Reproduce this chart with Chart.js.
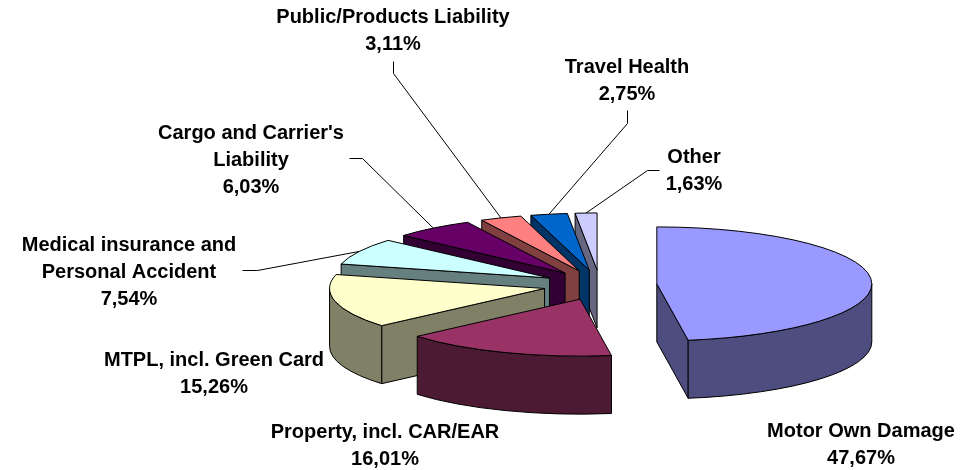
<!DOCTYPE html>
<html><head><meta charset="utf-8">
<script src="https://cdn.jsdelivr.net/npm/chart.js@4/dist/chart.umd.min.js"></script>
<style>html,body{margin:0;padding:0;background:#fff;}#wrap{width:972px;height:470px;}</style>
</head><body><div id="wrap"><canvas id="c" width="972" height="470"></canvas></div>
<script>
// ---- data ----
const categories = ["Motor Own Damage","Property, incl. CAR/EAR","MTPL, incl. Green Card","Medical insurance and Personal Accident","Cargo and Carrier's Liability","Public/Products Liability","Travel Health","Other"];
const labelLines = [["Motor Own Damage"],["Property, incl. CAR/EAR"],["MTPL, incl. Green Card"],["Medical insurance and","Personal Accident"],["Cargo and Carrier's","Liability"],["Public/Products Liability"],["Travel Health"],["Other"]];
const shares = [47.67,16.01,15.26,7.54,6.03,3.11,2.75,1.63];

// ---- styles / layout ----
const topColors = ["#9999FF","#993366","#FFFFCC","#CCFFFF","#660066","#FF8080","#0066CC","#CCCCFF"];
const labelX = [861,385,214,129,251,393,627,694];
const labelY0 = [431,432,360,245,133,17,67,157];
const lineGap = 27;
const leaders = [null,null,null,[[242,270],[257,270]],[[349,158],[362,158]],[[393,61],[393,73]],[[627,110],[627,123]],[[659,170],[647,170]]];
const TILT = 0.265, DEPTH = 58, EXPLODE = 0.265, YSHIFT = 50;
const FONT = 'bold 20px "Liberation Sans", Arial, sans-serif';

function darker(hex){
  const n=parseInt(hex.slice(1),16);
  const r=(n>>16)&255,g=(n>>8)&255,b=n&255;
  return 'rgb('+Math.round(r/2)+','+Math.round(g/2)+','+Math.round(b/2)+')';
}

function geom(el){
  const r = el.outerRadius, a0 = el.startAngle, a1 = el.endAngle, mid=(a0+a1)/2;
  const ex = el.x + Math.cos(mid)*EXPLODE*r;
  const ey = el.y + YSHIFT + Math.sin(mid)*EXPLODE*r*TILT;
  return {r, ry:r*TILT, a0, a1, mid, ex, ey};
}

const pie3d = {
  id:'pie3d',
  beforeDatasetsDraw(chart){
    const ctx = chart.ctx;
    const meta = chart.getDatasetMeta(0);
    const items = meta.data.map((el,i)=>({i, g:geom(el)}));
    items.sort((p,q)=>Math.sin(p.g.mid)-Math.sin(q.g.mid));
    ctx.save();
    ctx.lineWidth = 1;
    ctx.strokeStyle = '#000';
    ctx.lineJoin = 'round';
    for (const it of items){
      const g = it.g, top = topColors[it.i], side = darker(top);
      const P = a => [g.ex + Math.cos(a)*g.r, g.ey + Math.sin(a)*g.ry];
      // radial faces
      const faces = [];
      if (Math.cos(g.a0) < -1e-6) faces.push(g.a0);
      if (Math.cos(g.a1) > 1e-6) faces.push(g.a1);
      for (const a of faces){
        const p = P(a);
        ctx.beginPath();
        ctx.moveTo(g.ex, g.ey);
        ctx.lineTo(p[0], p[1]);
        ctx.lineTo(p[0], p[1]+DEPTH);
        ctx.lineTo(g.ex, g.ey+DEPTH);
        ctx.closePath();
        ctx.fillStyle = side; ctx.fill(); ctx.stroke();
      }
      // outer wall (front half)
      const s = Math.max(g.a0, 0), t = Math.min(g.a1, Math.PI);
      if (s < t){
        ctx.beginPath();
        ctx.ellipse(g.ex, g.ey, g.r, g.ry, 0, s, t, false);
        const pt = P(t);
        ctx.lineTo(pt[0], pt[1]+DEPTH);
        ctx.ellipse(g.ex, g.ey+DEPTH, g.r, g.ry, 0, t, s, true);
        ctx.closePath();
        ctx.fillStyle = side; ctx.fill(); ctx.stroke();
      }
      // top face
      const p0 = P(g.a0);
      ctx.beginPath();
      ctx.moveTo(g.ex, g.ey);
      ctx.lineTo(p0[0], p0[1]);
      ctx.ellipse(g.ex, g.ey, g.r, g.ry, 0, g.a0, g.a1, false);
      ctx.closePath();
      ctx.fillStyle = top; ctx.fill(); ctx.stroke();
    }
    ctx.restore();
    return false;
  },
  afterDraw(chart){
    const ctx = chart.ctx;
    const meta = chart.getDatasetMeta(0);
    ctx.save();
    // leader lines
    ctx.strokeStyle = '#000'; ctx.lineWidth = 1;
    meta.data.forEach((el,i)=>{
      const L = leaders[i]; if (!L) return;
      const g = geom(el);
      const end = [g.ex + Math.cos(g.mid)*g.r, g.ey + Math.sin(g.mid)*g.ry];
      ctx.beginPath();
      ctx.moveTo(L[0][0]+0.5, L[0][1]+0.5);
      ctx.lineTo(L[1][0]+0.5, L[1][1]+0.5);
      ctx.lineTo(end[0], end[1]);
      ctx.stroke();
    });
    // labels
    ctx.font = FONT; ctx.fillStyle = '#000';
    ctx.textAlign = 'center'; ctx.textBaseline = 'middle';
    shares.forEach((v,i)=>{
      const lines = labelLines[i].concat([v.toFixed(2).replace('.',',')+'%']);
      lines.forEach((txt,k)=>ctx.fillText(txt, labelX[i], labelY0[i]+k*lineGap));
    });
    ctx.restore();
  }
};

new Chart(document.getElementById('c').getContext('2d'), {
  type:'pie',
  data:{labels:categories, datasets:[{data:shares, backgroundColor:topColors, borderWidth:0}]},
  options:{
    responsive:false, animation:false, rotation:0,
    layout:{padding:{left:385,right:157,top:20,bottom:20}},
    plugins:{legend:{display:false}, tooltip:{enabled:false}}
  },
  plugins:[pie3d]
});
</script>
</body></html>
